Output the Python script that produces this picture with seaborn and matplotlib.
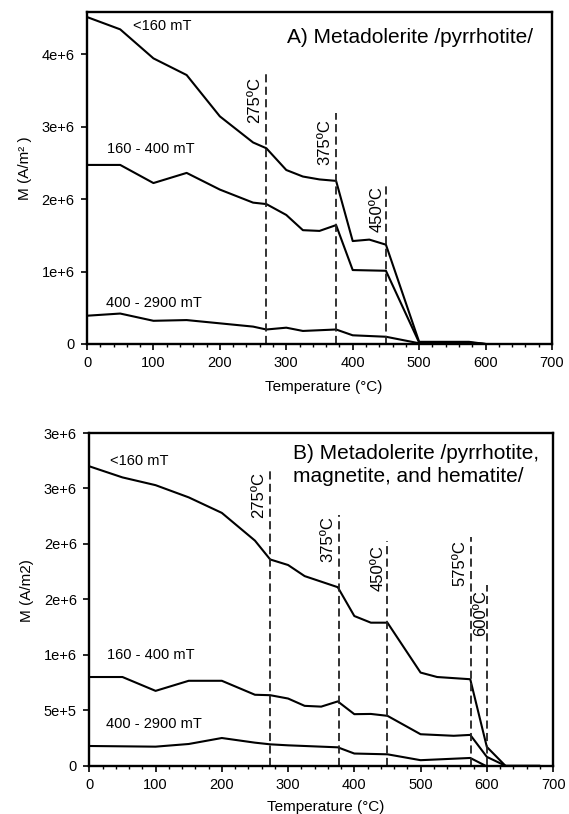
import numpy as np
import pandas as pd
import matplotlib
matplotlib.use("Agg")
import matplotlib.pyplot as plt
from matplotlib.ticker import MultipleLocator
import seaborn as sns

# ---------------- data ----------------
bands = ["<160 mT", "160 - 400 mT", "400 - 2900 mT"]

# Panel A: Metadolerite /pyrrhotite/
A_T_160 = [0, 50, 100, 150, 200, 250, 270, 300, 325, 350, 375, 400, 425, 450, 500, 550, 575, 600]
A_M_160 = [4.51e6, 4.34e6, 3.94e6, 3.71e6, 3.14e6, 2.78e6, 2.70e6, 2.40e6, 2.31e6, 2.27e6, 2.25e6,
           1.42e6, 1.44e6, 1.37e6, 0.03e6, 0.03e6, 0.03e6, 0.0]
A_T_400 = [0, 50, 100, 150, 200, 250, 270, 300, 325, 350, 375, 400, 450, 500, 550, 575, 600]
A_M_400 = [2.47e6, 2.47e6, 2.22e6, 2.36e6, 2.13e6, 1.95e6, 1.93e6, 1.78e6, 1.57e6, 1.56e6, 1.64e6,
           1.02e6, 1.01e6, 0.02e6, 0.02e6, 0.02e6, 0.0]
A_T_2900 = [0, 50, 100, 150, 200, 250, 270, 300, 325, 375, 400, 450, 500, 550, 575, 600]
A_M_2900 = [0.39e6, 0.42e6, 0.32e6, 0.33e6, 0.285e6, 0.24e6, 0.20e6, 0.225e6, 0.18e6, 0.20e6,
            0.12e6, 0.10e6, 0.01e6, 0.01e6, 0.01e6, 0.0]

# Panel B: Metadolerite /pyrrhotite, magnetite, and hematite/
B_T_160 = [0, 50, 100, 150, 200, 250, 273, 300, 325, 375, 400, 425, 450, 500, 525, 575, 600, 628, 680]
B_M_160 = [2.70e6, 2.60e6, 2.53e6, 2.42e6, 2.28e6, 2.03e6, 1.86e6, 1.81e6, 1.71e6, 1.61e6,
           1.35e6, 1.29e6, 1.29e6, 0.84e6, 0.80e6, 0.78e6, 0.17e6, 0.0, 0.0]
B_T_400 = [0, 50, 100, 150, 200, 250, 273, 300, 325, 350, 375, 400, 425, 450, 500, 550, 575, 600, 628]
B_M_400 = [0.80e6, 0.80e6, 0.675e6, 0.766e6, 0.766e6, 0.64e6, 0.636e6, 0.606e6, 0.54e6, 0.533e6,
           0.58e6, 0.465e6, 0.467e6, 0.45e6, 0.284e6, 0.27e6, 0.278e6, 0.08e6, 0.0]
B_T_2900 = [0, 100, 150, 200, 250, 273, 300, 375, 400, 450, 500, 575, 598]
B_M_2900 = [0.178e6, 0.172e6, 0.196e6, 0.25e6, 0.208e6, 0.193e6, 0.184e6, 0.166e6,
            0.11e6, 0.103e6, 0.05e6, 0.07e6, 0.0]

# Critical temperatures (dashed markers)
A_dash_T = [270, 375, 450]
A_dash_top = [3.76e6, 3.19e6, 2.22e6]
A_dash_lab = ["275ºC", "375ºC", "450ºC"]
A_lab_T = [253, 358, 437]
A_lab_M = [3.36e6, 2.78e6, 1.86e6]

B_dash_T = [273, 377, 450, 576, 600]
B_dash_top = [2.67e6, 2.26e6, 2.03e6, 2.06e6, 1.63e6]
B_dash_lab = ["275ºC", "375ºC", "450ºC", "575ºC", "600ºC"]
B_lab_T = [255, 360, 436, 560, 590]
B_lab_M = [2.44e6, 2.045e6, 1.78e6, 1.83e6, 1.376e6]

# Series label positions
A_band_T = [69, 30, 29]
A_band_M = [4.38e6, 2.69e6, 0.566e6]
B_band_T = [31, 27, 25]
B_band_M = [2.746e6, 1.0e6, 0.377e6]

x_ticks = [0, 100, 200, 300, 400, 500, 600, 700]
A_yticks = [0, 1e6, 2e6, 3e6, 4e6]
A_yticklabels = ["0", "1e+6", "2e+6", "3e+6", "4e+6"]
B_yticks = [0, 5e5, 1e6, 1.5e6, 2e6, 2.5e6, 3e6]
B_yticklabels = ["0", "5e+5", "1e+6", "2e+6", "2e+6", "3e+6", "3e+6"]


def long_df(Ts, Ms):
    frames = []
    for b, t, m in zip(bands, Ts, Ms):
        frames.append(pd.DataFrame({"T": t, "M": m, "band": b}))
    return pd.concat(frames, ignore_index=True)


dfA = long_df([A_T_160, A_T_400, A_T_2900], [A_M_160, A_M_400, A_M_2900])
dfB = long_df([B_T_160, B_T_400, B_T_2900], [B_M_160, B_M_400, B_M_2900])

# ---------------- style ----------------
sns.set_theme(style="white")
plt.rcParams["font.family"] = ["Liberation Sans", "DejaVu Sans"]
plt.rcParams["text.color"] = "black"
plt.rcParams["axes.labelcolor"] = "black"
plt.rcParams["xtick.color"] = "black"
plt.rcParams["ytick.color"] = "black"

fig = plt.figure(figsize=(5.69, 8.14), dpi=100)
axA = fig.add_axes([0.1529, 0.5774, 0.8172, 0.4079])
axB = fig.add_axes([0.157, 0.0593, 0.815, 0.4087])

dash = (0, (4.5, 2.4))


def style_axes(ax, yticks, yticklabels, ylim, ylabel, ylab_coords, xlab_coords):
    ax.set_xlim(0, 700)
    ax.set_ylim(*ylim)
    ax.set_xticks(x_ticks)
    ax.set_xticklabels([str(v) for v in x_ticks])
    ax.xaxis.set_minor_locator(MultipleLocator(20))
    ax.set_yticks(yticks)
    ax.set_yticklabels(yticklabels)
    ax.tick_params(axis="both", which="major", direction="out", length=4, width=1.2,
                   labelsize=10.5, pad=5, bottom=True, left=True)
    ax.tick_params(axis="x", which="minor", direction="out", length=2.5, width=1.0, bottom=True)
    for s in ax.spines.values():
        s.set_visible(True)
        s.set_color("black")
        s.set_linewidth(1.7)
    ax.set_xlabel("Temperature (°C)", fontsize=11)
    ax.set_ylabel(ylabel, fontsize=11)
    ax.xaxis.set_label_coords(*xlab_coords)
    ax.yaxis.set_label_coords(*ylab_coords)
    ax.grid(False)


# ---------- Panel A ----------
sns.lineplot(data=dfA, x="T", y="M", hue="band", palette=["black"] * 3, estimator=None,
             sort=False, legend=False, linewidth=1.5, ax=axA)
for t, top, lab, lt, lm in zip(A_dash_T, A_dash_top, A_dash_lab, A_lab_T, A_lab_M):
    axA.plot([t, t], [0, top], color="#222222", linestyle=dash, linewidth=1.3)
    axA.text(lt, lm, lab, rotation=90, ha="center", va="center", fontsize=12)
for b, t, m in zip(bands, A_band_T, A_band_M):
    axA.text(t, m, b, ha="left", va="center", fontsize=10.5)
axA.text(0.43, 0.922, "A) Metadolerite /pyrrhotite/", transform=axA.transAxes,
         ha="left", va="center", fontsize=15)
style_axes(axA, A_yticks, A_yticklabels, (0, 4.58e6), "M (A/m² )",
           (-0.118, 0.53), (0.508, -0.108))

# ---------- Panel B ----------
sns.lineplot(data=dfB, x="T", y="M", hue="band", palette=["black"] * 3, estimator=None,
             sort=False, legend=False, linewidth=1.5, ax=axB)
for t, top, lab, lt, lm in zip(B_dash_T, B_dash_top, B_dash_lab, B_lab_T, B_lab_M):
    axB.plot([t, t], [0, top], color="#222222", linestyle=dash, linewidth=1.3)
    axB.text(lt, lm, lab, rotation=90, ha="center", va="center", fontsize=12)
for b, t, m in zip(bands, B_band_T, B_band_M):
    axB.text(t, m, b, ha="left", va="center", fontsize=10.5)
axB.text(0.439, 0.94, "B) Metadolerite /pyrrhotite,", transform=axB.transAxes,
         ha="left", va="center", fontsize=15)
axB.text(0.439, 0.868, "magnetite, and hematite/", transform=axB.transAxes,
         ha="left", va="center", fontsize=15)
style_axes(axB, B_yticks, B_yticklabels, (0, 3e6), "M (A/m2)",
           (-0.119, 0.528), (0.51, -0.103))

fig.savefig("out.png", dpi=100)
